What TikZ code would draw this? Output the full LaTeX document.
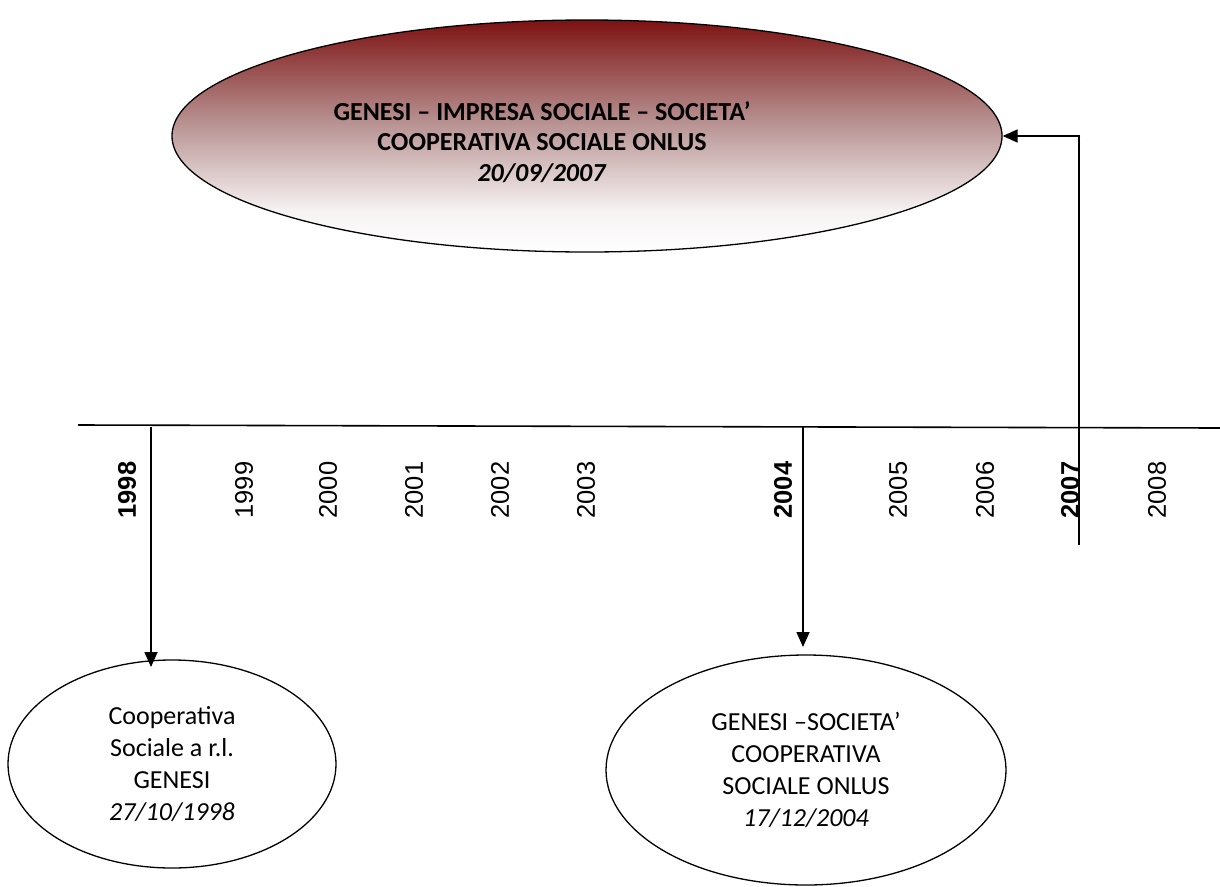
\documentclass[tikz,border=0pt]{standalone}
\usepackage{fontspec}
\setmainfont{Carlito}
\newfontfamily\yearfont{Liberation Sans}
\usetikzlibrary{arrows.meta,shapes.geometric}
\definecolor{topred}{RGB}{125,18,18}
\definecolor{midpink}{RGB}{185,148,148}
\definecolor{lowpink}{RGB}{246,242,242}
\pgfdeclareverticalshading{redfade}{100bp}{color(0bp)=(white); color(25bp)=(white); color(34bp)=(lowpink); color(52.5bp)=(midpink); color(75bp)=(topred); color(100bp)=(topred)}
\tikzset{
  ell/.style={draw=black,line width=1.3pt,ellipse,inner sep=0pt,align=center},
  line/.style={draw=black,line width=1.6pt},
  tip/.style={-{Triangle[length=15pt,width=13pt]}},
  arr/.style={line,tip},
  yr/.style={rotate=90,font=\yearfont\fontsize{25.5}{30}\selectfont,inner sep=0pt},
  yrb/.style={yr,font=\yearfont\bfseries\fontsize{25.5}{30}\selectfont},
}
\begin{document}
\begin{tikzpicture}[x=1pt,y=-1pt]
\useasboundingbox (0,0) rectangle (1220,886);
% ellipses
\node[ell,minimum width=830pt,minimum height=232pt,shading=redfade] (e07) at (587,136) {};
\node[align=center,font=\bfseries\fontsize{26}{30.5}\selectfont] (e07t) at (542,142)
  {GENESI -- IMPRESA SOCIALE -- SOCIETA'\\COOPERATIVA SOCIALE ONLUS\\\textit{20/09/2007}};
\node[ell,minimum width=328pt,minimum height=208pt,font=\fontsize{26}{32}\selectfont] (e98) at (172,764)
  {Cooperativa\\Sociale a r.l.\\GENESI\\\textit{27/10/1998}};
\node[ell,minimum width=400pt,minimum height=230pt,font=\fontsize{26}{32}\selectfont] (e04) at (806,770)
  {GENESI --SOCIETA'\\COOPERATIVA\\SOCIALE ONLUS\\\textit{17/12/2004}};
% timeline
\coordinate (tl) at (78,425);
\coordinate (tr) at (1220,428);
\draw[line] (tl) -- (tr);
\coordinate (c98) at (151,426.5);
\coordinate (a98) at (151,667);
\coordinate (c04) at (803,427);
\coordinate (a04) at (803,647);
\coordinate (c07b) at (1079,545);
\coordinate (c07t) at (1079,136);
\draw[arr] (c98) -- (a98);
\draw[arr] (c04) -- (a04);
\draw[line,line width=2.8pt] (c07b) -- ([yshift=-0.8pt]c07t);
\draw[arr] ([xshift=1.4pt]c07t) -- (e07.east);
% years
\node[yrb] (y98) at (127,490) {1998};
\node[yr] (y99) at (244,490) {1999};
\node[yr] (y00) at (328,490) {2000};
\node[yr] (y01) at (414,490) {2001};
\node[yr] (y02) at (500,490) {2002};
\node[yr] (y03) at (586,490) {2003};
\node[yrb] (y04) at (783,490) {2004};
\node[yr] (y05) at (898,490) {2005};
\node[yr] (y06) at (985,490) {2006};
\node[yrb] (y07) at (1070,490) {2007};
\node[yr] (y08) at (1157,490) {2008};
\end{tikzpicture}
\end{document}
